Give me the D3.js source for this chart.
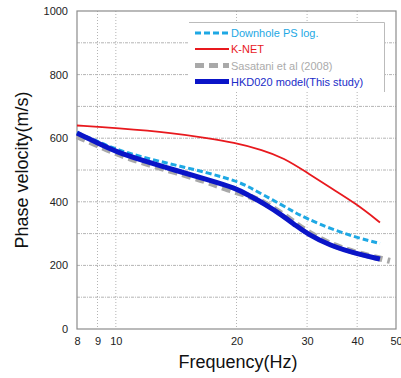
<!DOCTYPE html>
<html><head><meta charset="utf-8">
<script src="https://cdn.jsdelivr.net/npm/d3@7"></script>
<style>body{margin:0;background:#fff;} svg{display:block;font-family:"Liberation Sans",Arial,sans-serif;}</style>
</head><body>
<svg id="c" width="401" height="378"></svg>
<script>
const xTicks = [8, 9, 10, 20, 30, 40, 50];
const yTicks = [0, 200, 400, 600, 800, 1000];
const yGrid = [100, 200, 300, 400, 500, 600, 700, 800, 900];
const xGrid = [9, 10, 20, 30, 40];

const freqDownhole = [8, 9, 10, 11.6, 14, 17, 20, 21.4, 23.3, 25.7, 28, 30, 34.2, 40, 45.6];
const velDownhole  = [618, 590, 565, 541, 516, 491, 465, 448, 422, 393, 366, 347, 316, 287, 269];

const freqKnet = [8, 10, 14, 17, 19.6, 23.3, 26.2, 30, 34.2, 40, 45.6];
const velKnet  = [640, 632, 616, 600, 587, 563, 538, 492, 445, 392, 335];

const freqSasatani = [8, 9, 10, 11.6, 14, 17, 19, 21.4, 23.3, 26.2, 28.2, 30, 34.2, 40, 45.6, 48.3];
const velSasatani  = [606, 578, 552, 524, 494, 463, 438, 420, 400, 360, 330, 306, 266, 238, 222, 214];

const freqHKD = [8, 9, 10, 11.6, 14, 17, 20, 21.4, 23.3, 26.2, 28.2, 30, 34.2, 40, 45.6];
const velHKD  = [616, 585, 558, 531, 500, 469, 442, 421, 396, 355, 324, 300, 262, 236, 220];

const legendLabels = ["Downhole PS log.", "K-NET", "Sasatani et al (2008)", "HKD020 model(This study)"];

const L = 77, R = 396, T = 11, B = 329;
const x = d3.scaleLog().domain([8, 50]).range([L, R]);
const y = d3.scaleLinear().domain([0, 1000]).range([B, T]);
const svg = d3.select("#c");

// grid
svg.append("g").selectAll("line").data(yGrid).join("line")
  .attr("x1", L).attr("x2", R).attr("y1", d => y(d)).attr("y2", d => y(d))
  .attr("stroke", "#b4b4b4").attr("stroke-width", 1).attr("stroke-dasharray", "3,1,1,1");
svg.append("g").selectAll("line").data(xGrid).join("line")
  .attr("y1", T).attr("y2", B).attr("x1", d => x(d)).attr("x2", d => x(d))
  .attr("stroke", "#b4b4b4").attr("stroke-width", 1).attr("stroke-dasharray", "1,2");

// frame
svg.append("rect").attr("x", L).attr("y", T).attr("width", R - L).attr("height", B - T)
  .attr("fill", "none").attr("stroke", "#8c8c8c").attr("stroke-width", 1.2);

// axes
const xAxis = d3.axisBottom(x).tickValues(xTicks).tickFormat(d3.format("d")).tickSize(0).tickPadding(8);
const gx = svg.append("g").attr("transform", `translate(0,${B})`).call(xAxis);
gx.select(".domain").remove();
gx.selectAll("text").attr("font-size", 11).attr("fill", "#222").attr("font-family", "Liberation Sans, Arial");

const yAxis = d3.axisLeft(y).tickValues(yTicks).tickFormat(d3.format("d")).tickSize(0).tickPadding(9);
const gy = svg.append("g").attr("transform", `translate(${L},0)`).call(yAxis);
gy.select(".domain").remove();
gy.selectAll("text").attr("font-size", 11).attr("fill", "#222").attr("font-family", "Liberation Sans, Arial");

// titles
svg.append("text").attr("x", 238).attr("y", 368).attr("text-anchor", "middle")
  .attr("font-size", 18).attr("fill", "#111").text("Frequency(Hz)");
svg.append("text").attr("transform", "translate(28,170) rotate(-90)").attr("text-anchor", "middle")
  .attr("font-size", 18).attr("fill", "#111").text("Phase velocity(m/s)");

const line = d3.line().x(d => x(d[0])).y(d => y(d[1])).curve(d3.curveBasis);
const zip = (a, b) => a.map((v, i) => [v, b[i]]);

const styles = [
  {color: "#1ea8e4", w: 3, dash: "6,3"},
  {color: "#e8191e", w: 1.8, dash: null},
  {color: "#a9a9a9", w: 6, dash: "9,5"},
  {color: "#0a14c8", w: 5, dash: null}
];
const series = [zip(freqDownhole, velDownhole), zip(freqKnet, velKnet), zip(freqSasatani, velSasatani), zip(freqHKD, velHKD)];
const order = [2, 0, 1, 3];
order.forEach(i => {
  svg.append("path").datum(series[i]).attr("d", line)
    .attr("fill", "none").attr("stroke", styles[i].color).attr("stroke-width", styles[i].w)
    .attr("stroke-dasharray", styles[i].dash);
});

// legend
const lg = svg.append("g");
lg.append("rect").attr("x", 189).attr("y", 22).attr("width", 195).attr("height", 70).attr("fill", "#fff");
lg.append("path").attr("d", "M189,22.5H384.5V92").attr("fill", "none").attr("stroke", "#bbb").attr("stroke-width", 1);
const textColors = ["#1ea8e4", "#e8191e", "#ababab", "#1a2cc8"];
const rowsY = [33, 49, 65.5, 81.5];
legendLabels.forEach((lab, i) => {
  lg.append("line").attr("x1", 195).attr("x2", 229).attr("y1", rowsY[i]).attr("y2", rowsY[i])
    .attr("stroke", styles[i].color).attr("stroke-width", styles[i].w === 6 ? 5 : styles[i].w)
    .attr("stroke-dasharray", styles[i].dash);
  lg.append("text").attr("x", 231).attr("y", rowsY[i] + 4).attr("font-size", 11)
    .attr("fill", textColors[i]).text(lab);
});
</script>
</body></html>
